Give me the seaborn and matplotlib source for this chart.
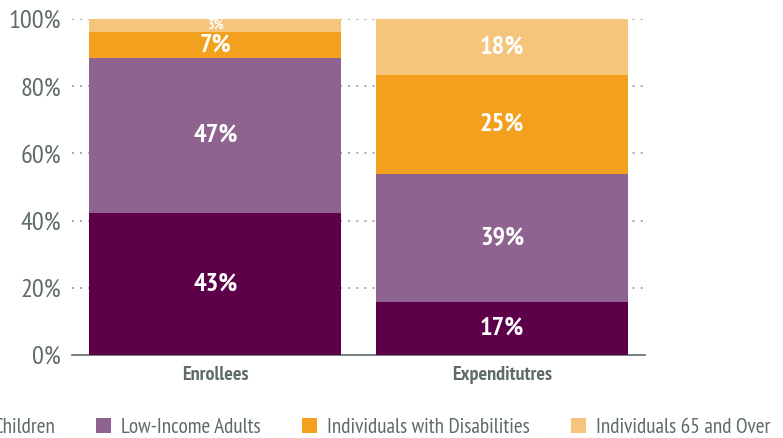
import numpy as np
import pandas as pd
import seaborn as sns
import matplotlib.pyplot as plt

# categories and groups
categories = ["Enrollees", "Expenditutres"]
groups = ["Children", "Low-Income Adults", "Individuals with Disabilities", "Individuals 65 and Over"]

# segment heights as drawn (share of total, %)
children = [42.3, 15.8]
low_income = [46.1, 38.1]
disabilities = [7.7, 29.4]
over_65 = [3.9, 16.7]

# printed labels
children_lbl = ["43%", "17%"]
low_income_lbl = ["47%", "39%"]
disabilities_lbl = ["7%", "25%"]
over_65_lbl = ["3%", "18%"]

colors = ["#5c0049", "#8f6390", "#f4a01f", "#f5c57b"]
grey = "#5d6b6a"

sns.set_style("white")
plt.rcParams["font.family"] = ["PT Sans Narrow", "Roboto Condensed", "Fira Sans Condensed",
                               "Liberation Sans Narrow", "DejaVu Sans"]

fig = plt.figure(figsize=(7.83, 4.38), dpi=100)
ax = fig.add_axes([0.092, 0.1895, 0.732, 0.767])

series = [children, low_income, disabilities, over_65]
labels = [children_lbl, low_income_lbl, disabilities_lbl, over_65_lbl]
bottom = np.zeros(len(categories))
for name, vals, lbls, col in zip(groups, series, labels, colors):
    df = pd.DataFrame({"cat": categories, "val": vals})
    sns.barplot(data=df, x="cat", y="val", bottom=bottom, color=col, width=0.88,
                ax=ax, label=name, saturation=1, linewidth=0, zorder=3)
    for i, (v, t) in enumerate(zip(vals, lbls)):
        small = v < 5
        ax.text(i, bottom[i] + v / 2, t, ha="center", va="center", color="white",
                fontsize=10 if small else 19, fontweight="bold",
                zorder=4)
    bottom = bottom + np.array(vals)

ax.set_xlim(-0.5, 1.5)
ax.set_ylim(0, 100)
ax.set_yticks([0, 20, 40, 60, 80, 100])
ax.set_yticklabels([f"{t}%" for t in range(0, 101, 20)], fontsize=19, color=grey)
ax.set_xticks([0, 1])
ax.set_xticklabels(categories, fontsize=14.5, fontweight="bold", color=grey)
ax.tick_params(axis="y", length=0, pad=8)
ax.tick_params(axis="x", length=0, pad=8)
ax.set_xlabel("")
ax.set_ylabel("")

for y in [20, 40, 60, 80, 100]:
    ax.axhline(y, color="#9a9a9a", linestyle=(0, (1, 3.5)), linewidth=1.3, zorder=1)

for s in ["top", "right", "left"]:
    ax.spines[s].set_visible(False)
ax.spines["bottom"].set_color(grey)
ax.spines["bottom"].set_linewidth(1.2)

handles, hl = ax.get_legend_handles_labels()
leg = ax.get_legend()
if leg is not None:
    leg.remove()
fig.legend(handles, hl, loc="center left", bbox_to_anchor=(-0.041, 0.025), ncol=4,
           frameon=False, fontsize=15.3, handlelength=0.72, handleheight=0.72,
           handletextpad=0.45, columnspacing=1.95, borderpad=0, borderaxespad=0,
           labelcolor=grey)

fig.savefig("out.png", dpi=100)
